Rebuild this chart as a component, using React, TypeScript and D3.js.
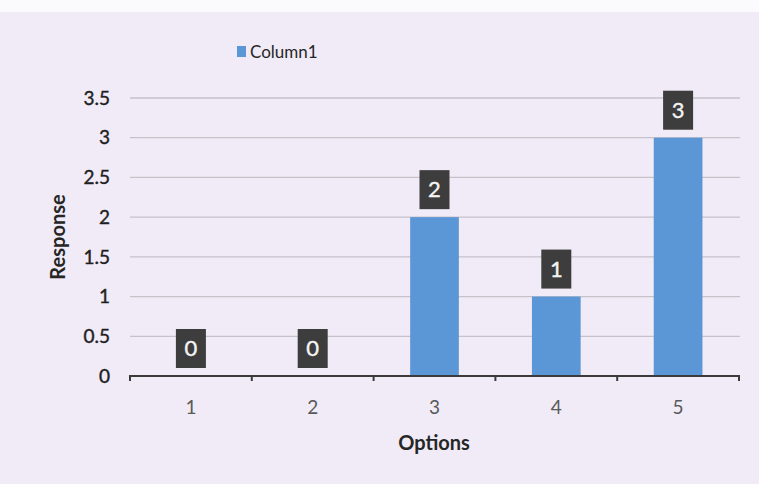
import React from "react";
import * as d3 from "d3";

const categories = ["1", "2", "3", "4", "5"];
const values = [0, 0, 2, 1, 3];
const yTicks = [0, 0.5, 1, 1.5, 2, 2.5, 3, 3.5];
const seriesName = "Column1";

const W = 759;
const H = 484;
const FONT = "Lato, 'Open Sans', 'DejaVu Sans', sans-serif";

export default function App() {
  const x = d3
    .scaleBand<string>()
    .domain(categories)
    .range([130, 739])
    .paddingInner(0.6)
    .paddingOuter(0.3);
  const y = d3.scaleLinear().domain([0, 3.5]).range([376, 98]);
  const step = x.step();
  const x0 = 130;
  const boundaries = d3.range(categories.length + 1).map((i) => x0 + i * step);

  return (
    <svg
      width={W}
      height={H}
      style={{ position: "absolute", left: 0, top: 0, display: "block" }}
      fontFamily={FONT}
    >
      <rect x={0} y={0} width={W} height={H} fill="#f0ebf6" />
      <rect x={0} y={0} width={W} height={12} fill="#fbfafc" />
      {/* gridlines */}
      {yTicks.slice(1).map((t) => (
        <line key={t} x1={130} x2={740} y1={y(t)} y2={y(t)} stroke="#c6c2ca" strokeWidth={1.3} />
      ))}
      {/* y tick labels */}
      {yTicks.map((t) => (
        <text
          key={t}
          x={110}
          y={y(t)}
          dy="0.35em"
          textAnchor="end"
          fontSize={19}
          fill="#1f1f1f"
          stroke="#1f1f1f"
          strokeWidth={0.4}
        >
          {t}
        </text>
      ))}
      {/* bars */}
      {values.map((v, i) => (
        <rect
          key={i}
          x={x(categories[i])}
          y={y(v)}
          width={x.bandwidth()}
          height={y(0) - y(v)}
          fill="#5b97d6"
        />
      ))}
      {/* x axis */}
      <line x1={129} x2={740} y1={y(0)} y2={y(0)} stroke="#3a3a3a" strokeWidth={2.2} />
      {boundaries.map((b, i) => (
        <line key={i} x1={b} x2={b} y1={y(0)} y2={y(0) + 5} stroke="#3a3a3a" strokeWidth={2} />
      ))}
      {/* x tick labels */}
      {categories.map((c) => (
        <text
          key={c}
          x={(x(c) as number) + x.bandwidth() / 2}
          y={407}
          dy="0.35em"
          textAnchor="middle"
          fontSize={19}
          fill="#595959"
        >
          {c}
        </text>
      ))}
      {/* data labels */}
      {values.map((v, i) => {
        const cx = (x(categories[i]) as number) + x.bandwidth() / 2;
        const bottom = y(v) - 8;
        return (
          <g key={i}>
            <rect x={cx - 15} y={bottom - 39} width={30} height={39} fill="#3d3d3d" />
            <text
              x={cx}
              y={bottom - 19.5}
              dy="0.35em"
              textAnchor="middle"
              fontSize={22}
              fill="#f4f4f4"
              stroke="#f4f4f4"
              strokeWidth={0.4}
            >
              {v}
            </text>
          </g>
        );
      })}
      {/* axis titles */}
      <text
        x={434}
        y={443}
        dy="0.35em"
        textAnchor="middle"
        fontSize={20}
        fontWeight="bold"
        fill="#262626"
      >
        Options
      </text>
      <text
        transform={`translate(58,237) rotate(-90)`}
        dy="0.35em"
        textAnchor="middle"
        fontSize={20}
        fontWeight="bold"
        fill="#262626"
      >
        Response
      </text>
      {/* legend */}
      <rect x={237} y={46} width={9} height={11} fill="#5b97d6" />
      <text x={250} y={52} dy="0.35em" fontSize={17} fill="#262626">
        {seriesName}
      </text>
    </svg>
  );
}
